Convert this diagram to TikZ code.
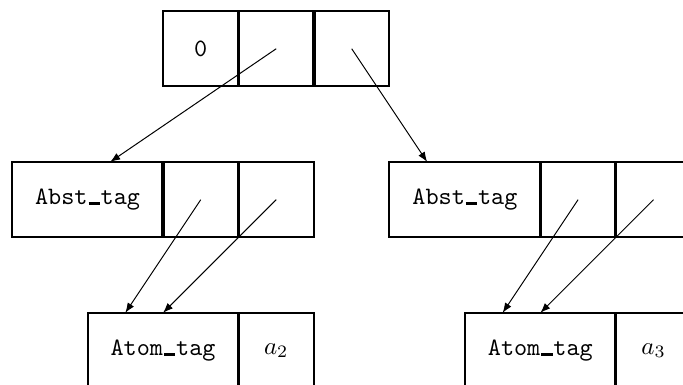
\documentclass[tikz,border=0pt]{standalone}
\usetikzlibrary{arrows.meta,calc}
\newcommand{\ubar}{\kern.04em\rule{.45em}{.1em}\kern.035em}
\tikzset{
  cell/.style={draw,line width=0.8pt,minimum width=30.2pt,minimum height=30.2pt,inner sep=0pt,outer sep=0pt,font=\ttfamily},
  wide/.style={cell,minimum width=60.4pt},
  divider/.style={line width=1.3pt},
  ptr/.style={-{Latex[length=4pt,width=3pt]},line width=0.4pt}
}
\begin{document}
\begin{tikzpicture}[x=30.2pt,y=30.2pt]
\useasboundingbox (-0.16,0.146) rectangle (8.89,-4.95);
\clip (-0.16,0.146) rectangle (8.89,-4.95);
% top cell
\node[cell] (c0) at (2.5,-0.5) {0};
\node[cell] (c1) at (3.5,-0.5) {};
\node[cell] (c2) at (4.5,-0.5) {};
% abstraction cells
\node[wide] (absL) at (1,-2.5) {Abst\ubar tag};
\node[cell] (absL1) at (2.5,-2.5) {};
\node[cell] (absL2) at (3.5,-2.5) {};
\node[wide] (absR) at (6,-2.5) {Abst\ubar tag};
\node[cell] (absR1) at (7.5,-2.5) {};
\node[cell] (absR2) at (8.5,-2.5) {};
% atoms
\node[wide] (atomL) at (2,-4.5) {Atom\ubar tag};
\node[cell,font=\normalfont] (valL) at (3.5,-4.5) {$a_2$};
\node[wide] (atomR) at (7,-4.5) {Atom\ubar tag};
\node[cell,font=\normalfont] (valR) at (8.5,-4.5) {$a_3$};
% dividers between cells
\foreach \n in {c1,c2,absL1,absL2,absR1,absR2,valL,valR}
  \draw[divider] (\n.north west) -- (\n.south west);
% pointers
\draw[ptr] (c1.center) -- ($(absL.north west)!0.65!(absL.north east)$);
\draw[ptr] (c2.center) -- ($(absR.north west)!0.25!(absR.north east)$);
\draw[ptr] (absL1.center) -- ($(atomL.north west)!0.25!(atomL.north east)$);
\draw[ptr] (absL2.center) -- (atomL.north);
\draw[ptr] (absR1.center) -- ($(atomR.north west)!0.25!(atomR.north east)$);
\draw[ptr] (absR2.center) -- (atomR.north);
\end{tikzpicture}
\end{document}
